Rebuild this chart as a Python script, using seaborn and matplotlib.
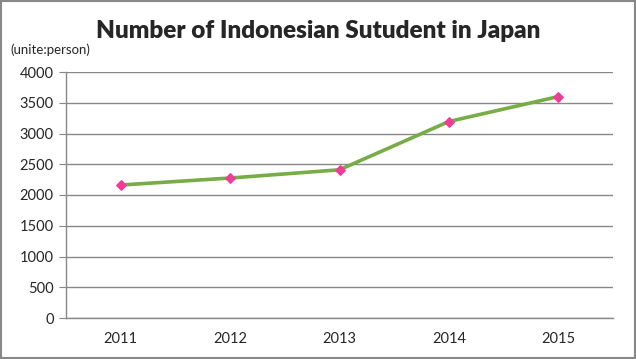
import matplotlib
matplotlib.use("Agg")
import matplotlib.pyplot as plt
from matplotlib.ticker import FixedLocator
import seaborn as sns
import pandas as pd

years = ["2011", "2012", "2013", "2014", "2015"]
students = [2162, 2276, 2410, 3195, 3600]
y_ticks = [0, 500, 1000, 1500, 2000, 2500, 3000, 3500, 4000]

sns.set_style("white")
plt.rcParams["font.family"] = ["Lato", "DejaVu Sans"]

df = pd.DataFrame({"year": years, "students": students})

fig = plt.figure(figsize=(6.36, 3.59), dpi=100)
ax = fig.add_axes([66 / 636, 1 - 318 / 359, (613 - 66) / 636, (318 - 72) / 359])

sns.lineplot(data=df, x="year", y="students", ax=ax, color="#77AC46",
             linewidth=2.6, marker="D", markersize=5.5,
             markerfacecolor="#F03C96", markeredgecolor="#F03C96", zorder=3)

ax.set_xlim(-0.5, len(years) - 0.5)
ax.set_ylim(0, 4000)
ax.set_yticks(y_ticks)
ax.yaxis.grid(True, color="#888888", linewidth=1)
ax.set_axisbelow(True)

ax.xaxis.set_minor_locator(FixedLocator([i - 0.5 for i in range(len(years) + 1)]))
ax.tick_params(axis="x", which="major", length=0, pad=10, labelsize=10.5)
ax.tick_params(axis="x", which="minor", length=5, color="#888888", direction="out")
ax.tick_params(axis="y", length=5, color="#888888", direction="out", pad=4,
               labelsize=10.5, left=True)

for s in ["top", "right"]:
    ax.spines[s].set_visible(False)
for s in ["left", "bottom"]:
    ax.spines[s].set_color("#888888")
    ax.spines[s].set_linewidth(1)

ax.set_xlabel("")
ax.set_ylabel("")

fig.text(0.5, 0.915, "Number of Indonesian Sutudent in Japan", ha="center",
         va="center", fontsize=17.5, fontweight="heavy")
fig.text(10 / 636, 1 - 50 / 359, "(unite:person)", ha="left", va="center",
         fontsize=9.5)

fig.patches.append(plt.Rectangle((0.001, 0.002), 0.997, 0.996, transform=fig.transFigure,
                                 fill=False, edgecolor="#888888", linewidth=1.5))

fig.savefig("out.png", dpi=100)
